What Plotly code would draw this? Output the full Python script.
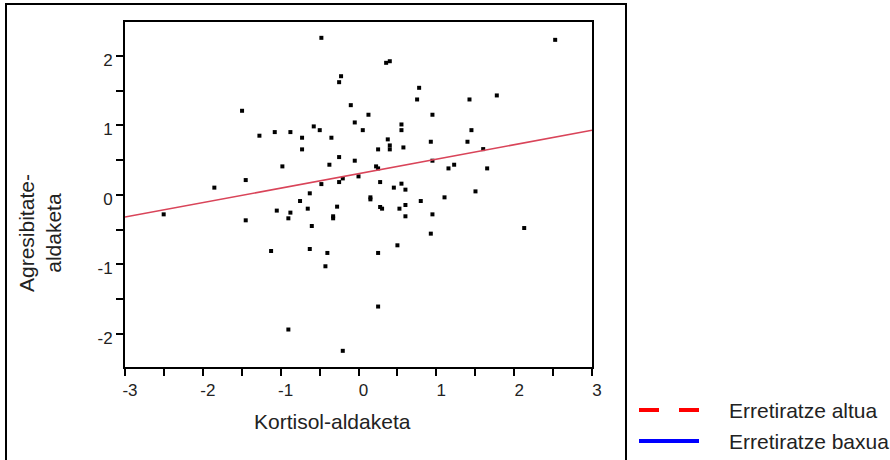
import plotly.graph_objects as go

# ---- data ----
x_vals = [-0.477, -0.224, -0.249, -0.099, -0.048, -1.496, -1.273, -1.076, -0.875, -0.725,
          -0.575, -0.498, -0.348, -0.725, -0.249, -0.374, -0.048, -0.978, -1.449, -1.852,
          -0.249, -0.202, 0.000, -0.477, -0.626, -0.751, -0.652, -0.275, -2.503, -1.449,
          -1.050, -0.875, -0.901, -0.600, -0.326, -0.326, -1.123, -0.626, -0.400, -0.425,
          -0.901, -0.202,
          0.355, 0.402, 0.779, 0.753, 1.426, 1.777, 2.527, 0.128, 0.055, 0.552,
          0.552, 0.950, 1.451, 0.376, 0.402, 0.402, 0.252, 0.577, 0.929, 1.400,
          0.226, 0.252, 0.950, 1.602, 1.156, 1.229, 1.653, 0.278, 0.454, 0.552,
          0.603, 1.503, 0.153, 0.153, 0.800, 1.105, 0.278, 0.303, 0.526, 0.603,
          0.603, 0.950, 0.929, 0.500, 0.252, 2.129, 0.252]
y_vals = [2.262, 1.709, 1.623, 1.292, 1.043, 1.211, 0.852, 0.904, 0.904, 0.823,
          0.986, 0.932, 0.823, 0.655, 0.544, 0.434, 0.492, 0.410, 0.213, 0.104,
          0.184, 0.237, 0.266, 0.155, 0.022, -0.089, -0.199, -0.170, -0.281, -0.367,
          -0.227, -0.256, -0.338, -0.449, -0.309, -0.338, -0.809, -0.780, -0.837, -1.029,
          -1.940, -2.247,
          1.902, 1.925, 1.542, 1.374, 1.374, 1.432, 2.233, 1.154, 0.932, 1.014,
          0.932, 1.154, 0.932, 0.799, 0.712, 0.655, 0.655, 0.683, 0.765, 0.765,
          0.410, 0.381, 0.492, 0.659, 0.381, 0.434, 0.381, 0.184, 0.104, 0.161,
          0.075, 0.050, -0.036, -0.065, -0.089, -0.036, -0.175, -0.199, -0.199, -0.146,
          -0.309, -0.281, -0.559, -0.727, -0.837, -0.478, -1.609]

fit_x = [-3, 3]
fit_y = [-0.32, 0.93]

x_tick_vals = [-3, -2, -1, 0, 1, 2, 3]
x_tick_text = ["-3", "-2", "-1", "0", "1", "2", "3"]
y_tick_vals = [-2, -1, 0, 1, 2]
y_tick_text = ["-2", "-1", "0", "1", "2"]

x_title = "Kortisol-aldaketa"
y_title = "Agresibitate-<br>aldaketa"
legend_labels = ["Erretiratze altua", "Erretiratze baxua"]
legend_colors = ["#ff0000", "#0000ff"]
legend_dash = ["20px,20px", "solid"]

# ---- layout geometry (pixels) ----
W, H = 890, 460
L, R, T, B = 125, 592, 22, 367


def px(xp):
    return (xp - L) / (R - L)


def py(yp):
    return (B - yp) / (B - T)


FONT = "Liberation Sans, Arial, sans-serif"
TXT = "#222222"

fig = go.Figure()
fig.add_trace(go.Scatter(x=x_vals, y=y_vals, mode="markers",
                         marker=dict(symbol="square", size=4, color="black",
                                     line=dict(width=0)),
                         showlegend=False, hoverinfo="skip"))
fig.add_trace(go.Scatter(x=fit_x, y=fit_y, mode="lines",
                         line=dict(color="#d94459", width=1.6),
                         showlegend=False, hoverinfo="skip"))

axis_common = dict(showgrid=False, zeroline=False, showline=True, linecolor="black",
                   linewidth=2, mirror=True, ticks="outside", ticklen=7, tickwidth=2,
                   tickcolor="black", tickfont=dict(family=FONT, size=17, color=TXT))

fig.update_xaxes(range=[-3, 3], tickmode="array", tickvals=x_tick_vals,
                 ticktext=x_tick_text, ticklabelshift=5,
                 minor=dict(ticks="outside", ticklen=7, tickwidth=2, dtick=0.5,
                            tickcolor="black", showgrid=False),
                 **axis_common)
fig.update_yaxes(range=[-2.48, 2.49], tickmode="array", tickvals=y_tick_vals,
                 ticktext=y_tick_text, ticklabelshift=4,
                 minor=dict(ticks="outside", ticklen=7, tickwidth=2, dtick=0.5,
                            tickcolor="black", showgrid=False),
                 **axis_common)

shapes = [dict(type="rect", xref="paper", yref="paper",
               x0=px(6), x1=px(626), y0=py(4), y1=py(480),
               line=dict(color="black", width=2), fillcolor="rgba(0,0,0,0)")]
annotations = [
    dict(text=x_title, xref="paper", yref="paper", x=px(332), y=py(421),
         xanchor="center", yanchor="middle", showarrow=False,
         font=dict(family=FONT, size=21, color=TXT)),
    dict(text=y_title, xref="paper", yref="paper", x=px(40), y=py(233),
         xanchor="center", yanchor="middle", showarrow=False, textangle=-90,
         font=dict(family=FONT, size=21, color=TXT)),
]
leg_y = [410, 441]
for lab, col, dsh, yy in zip(legend_labels, legend_colors, legend_dash, leg_y):
    shapes.append(dict(type="line", xref="paper", yref="paper",
                       x0=px(639), x1=px(699), y0=py(yy), y1=py(yy),
                       line=dict(color=col, width=4, dash=dsh)))
    annotations.append(dict(text=lab, xref="paper", yref="paper", x=px(727),
                            y=py(yy), xanchor="left", yanchor="middle",
                            showarrow=False,
                            font=dict(family=FONT, size=21, color=TXT)))

fig.update_layout(width=W, height=H,
                  margin=dict(l=L, r=W - R, t=T, b=H - B, pad=0),
                  paper_bgcolor="white", plot_bgcolor="white",
                  shapes=shapes, annotations=annotations, showlegend=False)

fig.write_html("out.html", config={"displayModeBar": False},
               post_script="document.body.style.margin='0';")
